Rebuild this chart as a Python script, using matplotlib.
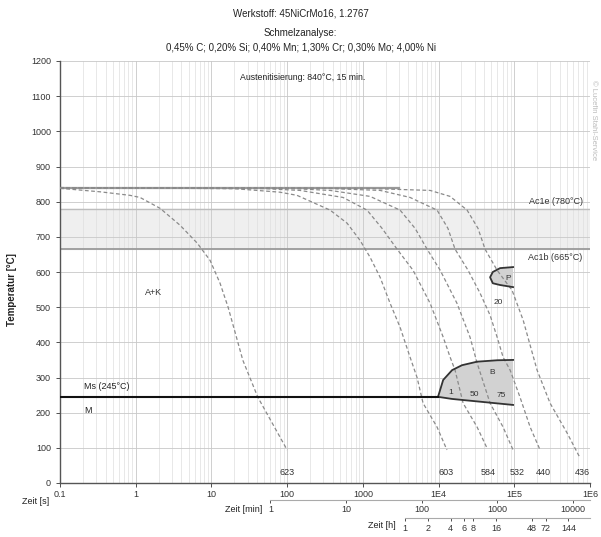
import matplotlib
matplotlib.use("Agg")
import matplotlib.pyplot as plt
from matplotlib.ticker import NullLocator, FixedLocator

plt.rcParams['font.family'] = ['Liberation Sans', 'DejaVu Sans']

# ---------------- data ----------------
title_lines = ["Werkstoff: 45NiCrMo16, 1.2767",
               "Schmelzanalyse:",
               "0,45% C; 0,20% Si; 0,40% Mn; 1,30% Cr; 0,30% Mo; 4,00% Ni"]
aust_text = "Austenitisierung: 840°C, 15 min."

x_ticks = [0.1, 1, 10, 100, 1000, 1e4, 1e5, 1e6]
x_ticklabels = ["0.1", "1", "10", "100", "1000", "1E4", "1E5", "1E6"]
y_ticks = list(range(0, 1201, 100))
min_ticks = [1, 10, 100, 1000, 10000]
h_ticks = [1, 2, 4, 6, 8, 16, 48, 72, 144]

T_aust = 840
Ac1e = 780
Ac1b = 665
Ms = 245

c623_t = [0.1, 0.34, 0.84, 1.14, 2.1, 3.85, 6.5, 9.6, 13, 16.6, 26, 41, 100]
c623_T = [838, 828, 818, 812, 781, 733, 682, 633, 568, 500, 349, 244, 94]
c603_t = [0.1, 20, 80, 135, 369, 618, 918, 1245, 1690, 2290, 3100, 4200, 5200, 6240, 9550, 12900]
c603_T = [840, 837, 827, 818, 776, 739, 690, 642, 585, 511, 443, 358, 300, 227, 159, 94]
c584_t = [0.1, 50, 148, 547, 1135, 1795, 2830, 4600, 7730, 11500, 14200, 16500, 21100, 32300, 43700]
c584_T = [840, 837, 832, 812, 776, 724, 665, 605, 511, 415, 358, 321, 227, 159, 99]
c532_t = [0.1, 100, 369, 1245, 3100, 4900, 7050, 10500, 17500, 26000, 32300, 47900, 71100, 96400]
c532_T = [840, 838, 832, 815, 776, 724, 665, 605, 511, 415, 341, 227, 159, 94]
c440_t = [0.1, 300, 1690, 4200, 9550, 13300, 16500, 24500, 35300, 47900, 59300, 71100, 88100, 119000, 162000, 219000]
c440_T = [840, 838, 832, 812, 776, 724, 665, 605, 540, 477, 415, 358, 321, 244, 159, 94]
c436_t = [0.1, 1000, 7730, 14200, 23800, 33200, 41100, 59300, 93500, 131000, 200000, 297000, 499000, 740000]
c436_T = [840, 838, 832, 815, 776, 724, 665, 605, 548, 463, 321, 227, 142, 71]

curves = [(c623_t, c623_T), (c603_t, c603_T), (c584_t, c584_T),
          (c532_t, c532_T), (c440_t, c440_T), (c436_t, c436_T)]
hardness = ["623", "603", "584", "532", "440", "436"]
hardness_t = [100, 12500, 45000, 110000, 240000, 800000]
hardness_T = 30

B_top_t = [9840, 11500, 15100, 20400, 32300, 59300, 96400]
B_top_T = [245, 293, 321, 335, 345, 349, 350]
B_bot_t = [9840, 15100, 96400]
B_bot_T = [245, 239, 222]

P_t = [96400, 64900, 52000, 47900, 52000, 64900, 96400]
P_T = [614, 611, 600, 585, 568, 563, 557]

# ---------------- figure ----------------
fig = plt.figure(figsize=(6.01, 5.37), dpi=100)
L, R, B, T = 60 / 601, 590 / 601, 1 - 483 / 537, 1 - 61 / 537
ax = fig.add_axes([L, B, R - L, T - B])
ax.set_xscale('log')
ax.set_xlim(0.1, 1e6)
ax.set_ylim(0, 1200)

ax.grid(which='major', axis='both', color='#c8c8c8', lw=0.6)
ax.grid(which='minor', axis='x', color='#dedede', lw=0.5)
ax.set_axisbelow(True)

for s in ['top', 'right']:
    ax.spines[s].set_visible(False)
for s in ['left', 'bottom']:
    ax.spines[s].set_color('#555555')
    ax.spines[s].set_linewidth(1.0)

ax.set_xticks(x_ticks)
ax.set_xticklabels(x_ticklabels)
ax.set_yticks(y_ticks)
ax.set_yticklabels([str(v) for v in y_ticks])
ax.tick_params(axis='both', labelsize=6.5, colors='#333333', length=3, width=0.6)
ax.tick_params(axis='x', which='minor', length=0)
ax.tick_params(axis='x', pad=2)

# transformation band
ax.axhspan(Ac1b, Ac1e, color='#efefef', zorder=0.5)
ax.axhline(Ac1e, color='#bdbdbd', lw=1.0, zorder=1)
ax.axhline(Ac1b, color='#9a9a9a', lw=1.3, zorder=1)
ax.plot([0.1, 3000], [T_aust, T_aust], color='#9a9a9a', lw=1.6, zorder=1.5)

# regions
ax.fill(B_top_t + B_bot_t[::-1], B_top_T + B_bot_T[::-1], color='#d2d2d2', lw=0, zorder=2)
ax.plot(B_top_t, B_top_T, color='#333333', lw=1.3, zorder=4)
ax.plot(B_bot_t, B_bot_T, color='#333333', lw=1.3, zorder=4)
ax.fill(P_t, P_T, color='#d2d2d2', lw=0, zorder=2)
ax.plot(P_t, P_T, color='#333333', lw=1.3, zorder=4)

# Ms line
ax.plot([0.1, B_top_t[0]], [Ms, Ms], color='#111111', lw=1.5, zorder=4)

# cooling curves
for ct, cT in curves:
    ax.plot(ct, cT, color='#8a8a8a', lw=0.9, ls=(0, (3, 2)), zorder=3)
for lab, ht in zip(hardness, hardness_t):
    ax.text(ht, hardness_T, lab, fontsize=6.5, ha='center', va='center', color='#333333')

# annotations
fs = 6.5
ax.text(8e5, 787, "Ac1e (780°C)", fontsize=fs, ha='right', va='bottom', color='#333333')
ax.text(8e5, 640, "Ac1b (665°C)", fontsize=fs, ha='right', va='center', color='#333333')
ax.text(1.7, 543, "A+K", fontsize=fs, ha='center', va='center', color='#333333')
ax.text(0.21, 273, "Ms (245°C)", fontsize=fs, ha='left', va='center', color='#222222')
ax.text(0.21, 207, "M", fontsize=fs, ha='left', va='center', color='#222222')
ax.text(51000, 315, "B", fontsize=6, ha='center', va='center', color='#333333', zorder=5)
ax.text(14500, 256, "1", fontsize=6, ha='center', va='center', color='#333333', zorder=5)
ax.text(29500, 252, "50", fontsize=6, ha='center', va='center', color='#333333', zorder=5)
ax.text(68000, 248, "75", fontsize=6, ha='center', va='center', color='#333333', zorder=5)
ax.text(82800, 582, "P", fontsize=6, ha='center', va='center', color='#333333', zorder=5)
ax.text(61100, 514, "20", fontsize=6, ha='center', va='center', color='#333333', zorder=5)
ax.text(160, 1153, aust_text, fontsize=6.3, ha='center', va='center', color='#222222')

# secondary time axes
sec_min = ax.secondary_xaxis(-0.040, functions=(lambda x: x / 60.0, lambda x: x * 60.0))
sec_min.xaxis.set_major_locator(FixedLocator(min_ticks))
sec_min.set_xticklabels([str(v) for v in min_ticks])
sec_min.xaxis.set_minor_locator(NullLocator())
sec_min.spines['bottom'].set_bounds(1, 1e6 / 60)
sec_min.spines['bottom'].set_color('#aaaaaa')
sec_min.tick_params(labelsize=6.5, colors='#333333', length=2, width=0.6, pad=2)

sec_h = ax.secondary_xaxis(-0.083, functions=(lambda x: x / 3600.0, lambda x: x * 3600.0))
sec_h.xaxis.set_major_locator(FixedLocator(h_ticks))
sec_h.set_xticklabels([str(v) for v in h_ticks])
sec_h.xaxis.set_minor_locator(NullLocator())
sec_h.spines['bottom'].set_bounds(1, 1e6 / 3600)
sec_h.spines['bottom'].set_color('#aaaaaa')
sec_h.tick_params(labelsize=6.5, colors='#333333', length=2, width=0.6, pad=2)

# axis labels
fig.text(22 / 601, 1 - 502 / 537, "Zeit [s]", fontsize=6.5, ha='left', va='center', color='#222222')
fig.text(262 / 601, 1 - 509 / 537, "Zeit [min]", fontsize=6.5, ha='right', va='center', color='#222222')
fig.text(396 / 601, 1 - 526 / 537, "Zeit [h]", fontsize=6.5, ha='right', va='center', color='#222222')
fig.text(12 / 601, 1 - 290 / 537, "Temperatur [°C]", fontsize=7, rotation=90, ha='center',
         va='center', color='#222222', fontweight='bold')

# titles
for line, yy in zip(title_lines, [14, 33, 48]):
    fig.text(0.5, 1 - yy / 537, line, fontsize=7, ha='center', va='center', color='#222222')

fig.text(594 / 601, 1 - 120 / 537, "© Lucefin Stahl-Service", fontsize=5.5, rotation=270,
         ha='center', va='center', color='#bbbbbb')

fig.savefig("out.png", dpi=100)
